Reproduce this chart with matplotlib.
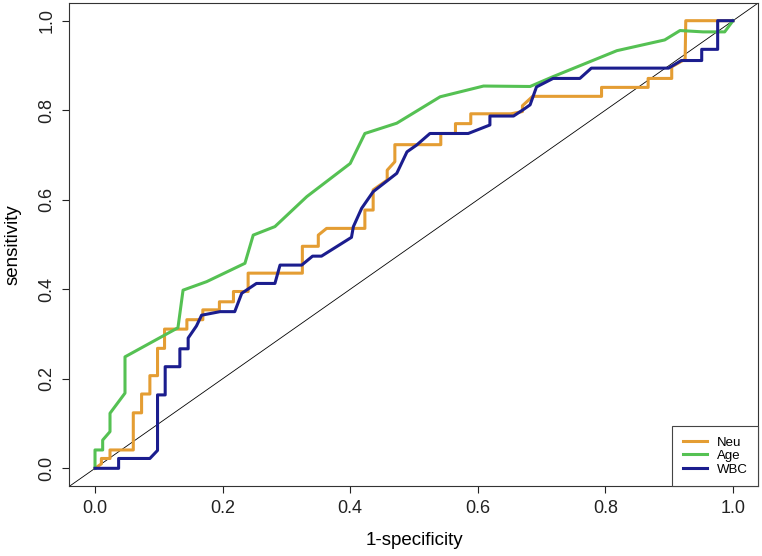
import matplotlib
matplotlib.use("Agg")
import matplotlib.pyplot as plt
from matplotlib.ticker import FormatStrFormatter

plt.rcParams["font.family"] = ["Liberation Sans", "DejaVu Sans"]

# ROC curves (1-specificity, sensitivity)
neu_fpr = [0.0, 0.010, 0.010, 0.0235, 0.0235, 0.060, 0.060, 0.073, 0.073, 0.086, 0.086,
           0.098, 0.098, 0.109, 0.109, 0.144, 0.144, 0.169, 0.169, 0.195, 0.195, 0.217,
           0.217, 0.240, 0.240, 0.325, 0.325, 0.350, 0.350, 0.363, 0.423, 0.423, 0.436,
           0.436, 0.458, 0.458, 0.470, 0.470, 0.542, 0.542, 0.565, 0.565, 0.589, 0.589,
           0.652, 0.670, 0.670, 0.686, 0.794, 0.794, 0.867, 0.867, 0.904, 0.904, 0.925,
           0.926, 1.0]
neu_tpr = [0.0, 0.010, 0.022, 0.022, 0.041, 0.041, 0.124, 0.124, 0.166, 0.166, 0.207,
           0.207, 0.268, 0.268, 0.311, 0.311, 0.332, 0.332, 0.354, 0.354, 0.372, 0.372,
           0.395, 0.395, 0.436, 0.436, 0.496, 0.496, 0.521, 0.536, 0.536, 0.577, 0.577,
           0.622, 0.644, 0.666, 0.685, 0.723, 0.723, 0.748, 0.748, 0.770, 0.770, 0.792,
           0.792, 0.797, 0.810, 0.831, 0.831, 0.851, 0.851, 0.871, 0.871, 0.897, 0.914,
           1.0, 1.0]

age_fpr = [0.0, 0.0, 0.012, 0.012, 0.0235, 0.0235, 0.047, 0.047, 0.130, 0.138, 0.175,
           0.235, 0.248, 0.282, 0.332, 0.400, 0.423, 0.473, 0.541, 0.609, 0.682, 0.718,
           0.818, 0.893, 0.917, 0.953, 0.987, 1.0]
age_tpr = [0.0, 0.041, 0.041, 0.063, 0.082, 0.123, 0.168, 0.249, 0.314, 0.398, 0.417,
           0.458, 0.521, 0.540, 0.607, 0.681, 0.748, 0.771, 0.830, 0.854, 0.853, 0.875,
           0.933, 0.957, 0.978, 0.975, 0.975, 1.0]

wbc_fpr = [0.0, 0.037, 0.037, 0.086, 0.098, 0.098, 0.110, 0.110, 0.133, 0.133, 0.146,
           0.146, 0.159, 0.167, 0.196, 0.219, 0.230, 0.253, 0.282, 0.290, 0.324, 0.341,
           0.355, 0.402, 0.405, 0.418, 0.436, 0.473, 0.489, 0.504, 0.525, 0.585, 0.619,
           0.619, 0.656, 0.671, 0.682, 0.692, 0.718, 0.760, 0.778, 0.899, 0.919, 0.951,
           0.951, 0.976, 0.976, 1.0]
wbc_tpr = [0.0, 0.0, 0.022, 0.022, 0.040, 0.164, 0.164, 0.227, 0.227, 0.267, 0.267,
           0.291, 0.318, 0.342, 0.350, 0.350, 0.391, 0.413, 0.413, 0.454, 0.454, 0.474,
           0.474, 0.516, 0.540, 0.581, 0.618, 0.659, 0.707, 0.722, 0.748, 0.748, 0.767,
           0.787, 0.787, 0.801, 0.812, 0.852, 0.871, 0.871, 0.894, 0.894, 0.911, 0.911,
           0.936, 0.936, 1.0, 1.0]

labels = ["Neu", "Age", "WBC"]
colors = ["#E49D33", "#55C153", "#1B1D8E"]

fig = plt.figure(figsize=(7.62, 5.56), dpi=100)
ax = fig.add_axes([0.0912, 0.1255, 0.9042, 0.8695])

ax.axline((0, 0), (1, 1), color="black", lw=0.6, zorder=1)
for fpr, tpr, lab, col in zip([neu_fpr, age_fpr, wbc_fpr], [neu_tpr, age_tpr, wbc_tpr],
                              labels, colors):
    ax.plot(fpr, tpr, color=col, lw=2.2, label=lab, zorder=2)

ax.set_xlim(-0.04, 1.04)
ax.set_ylim(-0.04, 1.04)
ticks = [0.0, 0.2, 0.4, 0.6, 0.8, 1.0]
ax.set_xticks(ticks)
ax.set_yticks(ticks)
ax.xaxis.set_major_formatter(FormatStrFormatter("%.1f"))
ax.yaxis.set_major_formatter(FormatStrFormatter("%.1f"))
ax.tick_params(length=5, width=0.8, pad=5, labelsize=13, colors="#222222")
ax.tick_params(axis="y", labelrotation=90)
for lab in ax.get_yticklabels():
    lab.set_va("center")
for sp in ax.spines.values():
    sp.set_linewidth(0.8)
    sp.set_color("#333333")

ax.set_xlabel("1-specificity", fontsize=13.5, labelpad=11)
ax.set_ylabel("sensitivity", fontsize=13.5, labelpad=12)

leg = ax.legend(loc="lower right", borderaxespad=0, fancybox=False, fontsize=9.5,
                handlelength=1.8, handletextpad=0.8, labelspacing=0.1, borderpad=0.8,
                framealpha=1)
leg.get_frame().set_edgecolor("#444444")
leg.get_frame().set_linewidth(0.8)

fig.savefig("out.png", dpi=100)
